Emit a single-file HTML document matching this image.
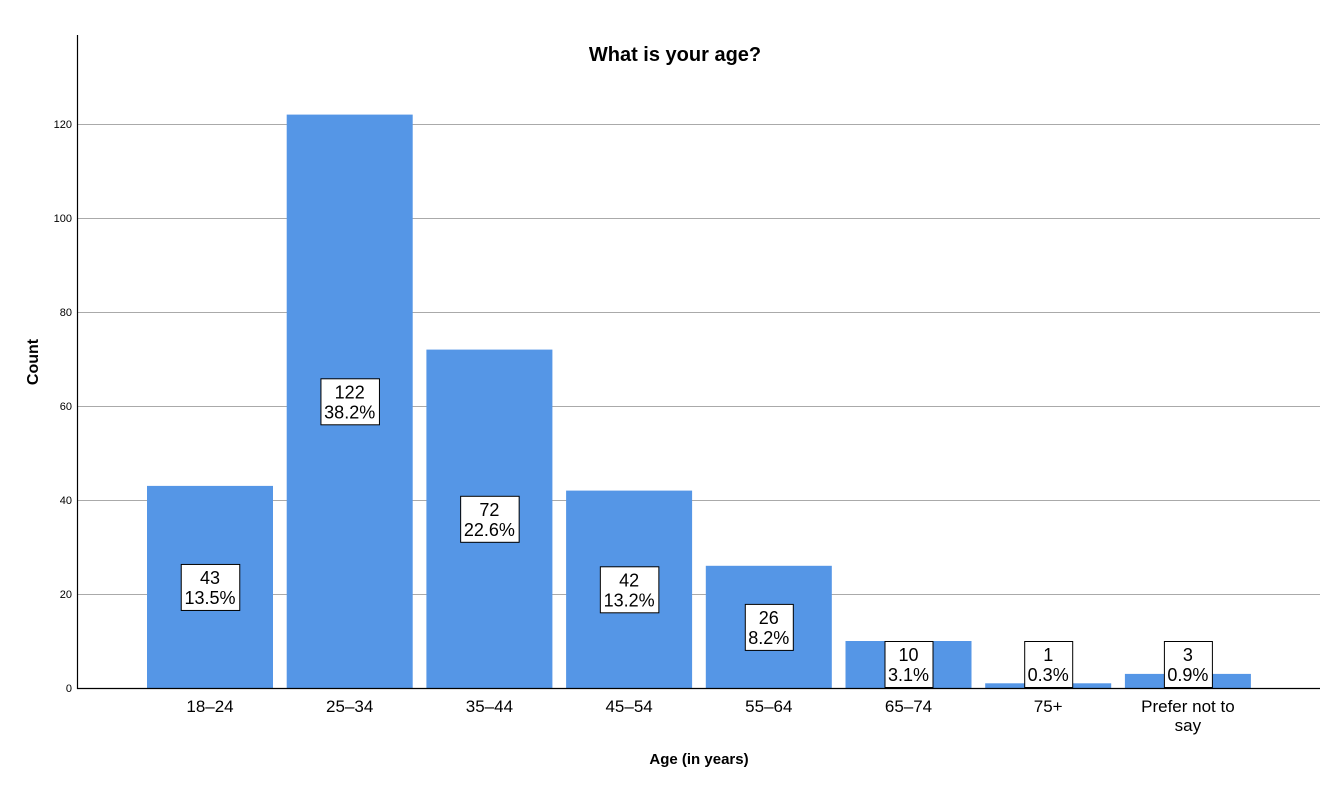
<!DOCTYPE html>
<html><head><meta charset="utf-8"><style>
body{margin:0;background:#fff;font-family:"Liberation Sans",Arial,sans-serif}
svg{display:block}
</style></head><body>
<svg id="chart" width="1335" height="785" xmlns="http://www.w3.org/2000/svg" font-family="Liberation Sans, Arial, sans-serif">
<text x="675" y="61" text-anchor="middle" font-size="20" font-weight="bold">What is your age?</text>
<text transform="translate(38,362) rotate(-90)" text-anchor="middle" font-size="16" font-weight="bold">Count</text>
<text x="699" y="764" text-anchor="middle" font-size="15" font-weight="bold">Age (in years)</text>
<g id="grid"></g><g id="bars"></g><g id="labels"></g>
<line x1="77.5" y1="35" x2="77.5" y2="689" stroke="#000" stroke-width="1.2"/>
<line x1="77" y1="688.5" x2="1320" y2="688.5" stroke="#000" stroke-width="1.2"/>
</svg>
<script>
const categories=["18–24","25–34","35–44","45–54","55–64","65–74","75+","Prefer not to say"];
const counts=[43,122,72,42,26,10,1,3];
const percents=["13.5%","38.2%","22.6%","13.2%","8.2%","3.1%","0.3%","0.9%"];
const yTicks=[0,20,40,60,80,100,120];
const NS="http://www.w3.org/2000/svg";
const y0=688,pxPer=4.7,plotL=78,plotR=1320,x0=210,step=139.7,bw=126;
const yS=v=>y0-v*pxPer, xS=i=>x0+i*step;
function mk(t,a,p){const e=document.createElementNS(NS,t);for(const k in a)e.setAttribute(k,a[k]);p.appendChild(e);return e;}
const grid=document.getElementById('grid'),bars=document.getElementById('bars'),labels=document.getElementById('labels');
yTicks.forEach(v=>{
 if(v>0){const l=mk('line',{x1:plotL,x2:plotR,y1:yS(v)+0.5,y2:yS(v)+0.5,stroke:'#aaa'},grid);
 
 }
 const t=mk('text',{x:72,y:yS(v)+4,'text-anchor':'end','font-size':11},grid);t.textContent=v;
 
 
});
categories.forEach((c,i)=>{
 const cx=xS(i),v=counts[i];
 const r=mk('rect',{x:cx-bw/2,y:yS(v),width:bw,height:v*pxPer,fill:'#5596e6'},bars);
 
 
 const cy=Math.min(y0-v*pxPer/2,664);
 const w=Math.max(String(v).length,percents[i].length)*10.5+6;
 const b=mk('rect',{x:cx-w/2+0.5,y:cy-23+0.5,width:w,height:46,fill:'#fff',stroke:'#000'},labels);
 
 
 const t1=mk('text',{x:cx,y:cy-3,'text-anchor':'middle','font-size':18},labels);t1.textContent=v;
 
 
 const t2=mk('text',{x:cx,y:cy+17,'text-anchor':'middle','font-size':18},labels);t2.textContent=percents[i];
 
 
 const words=c==="Prefer not to say"?["Prefer not to","say"]:[c];
 words.forEach((w2,j)=>{const t=mk('text',{x:cx,y:712+j*19,'text-anchor':'middle','font-size':17},labels);t.textContent=w2;
 
 });
});
</script>
</body></html>
